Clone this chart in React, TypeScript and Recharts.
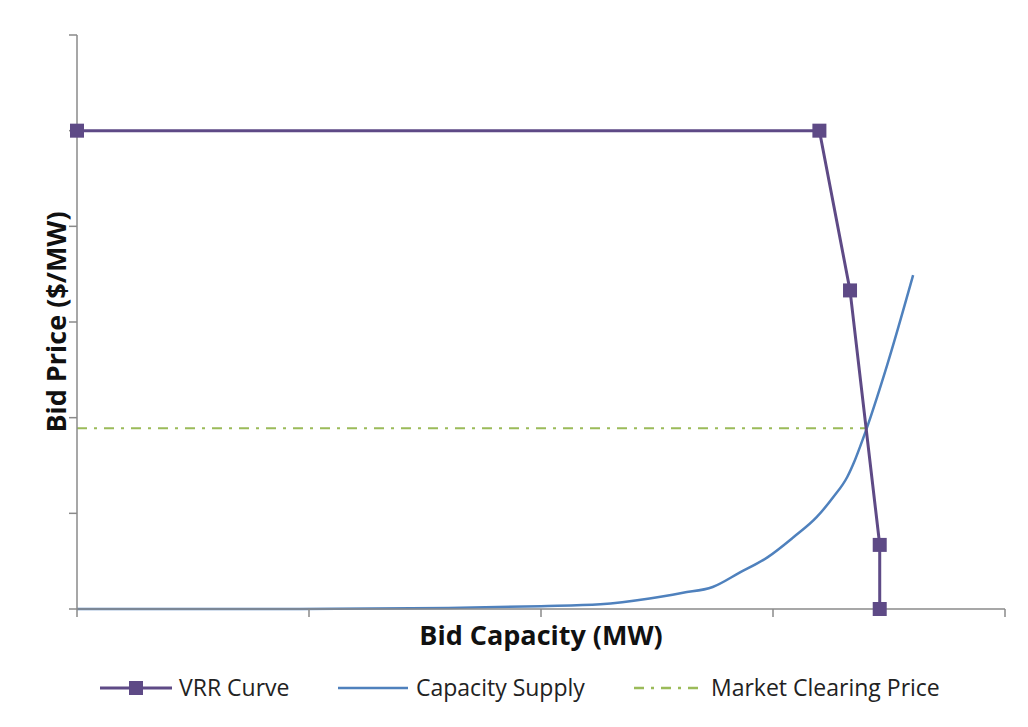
import { LineChart, Line, XAxis, YAxis } from 'recharts';

// VRR demand curve (capacity and price in arbitrary units, no tick labels in the original)
const vrrCapacity = [0, 80, 83.3, 86.5, 86.5];
const vrrPrice = [5, 5, 3.33, 0.67, 0];

const supplyCapacity = [0, 24, 40, 50, 56.4, 61.7, 65.3, 68.5, 71.4, 74.4, 77.2, 79.7, 81.5, 83, 83.8, 84.7, 87.3, 90.1];
const supplyPrice = [0, 0, 0.01, 0.03, 0.05, 0.11, 0.17, 0.23, 0.38, 0.54, 0.75, 0.96, 1.17, 1.38, 1.55, 1.78, 2.55, 3.49];

const clearingCapacity = [0, 85];
const clearingPrice = [1.89, 1.89];

const xTicks = [0, 25, 50, 75, 100];
const yTicks = [0, 1, 2, 3, 4, 5, 6];

const seriesNames = ['VRR Curve', 'Capacity Supply', 'Market Clearing Price'];

const toPoints = (xs: number[], ys: number[]) => xs.map((x, i) => ({ x, y: ys[i] }));

const vrrData = toPoints(vrrCapacity, vrrPrice);
const supplyData = toPoints(supplyCapacity, supplyPrice);
const clearingData = toPoints(clearingCapacity, clearingPrice);

const PURPLE = '#5E4A86';
const BLUE = '#4F81BD';
const GREEN = '#9BBB59';
const AXIS = '#8A8A8A';
const FONT = '"Open Sans", sans-serif';

const SquareDot = (props: any) => {
  const { cx, cy } = props;
  if (cx == null || cy == null) return null;
  return <rect x={cx - 7} y={cy - 7} width={14} height={14} fill={PURPLE} />;
};

// legend plus the outer chart-area border (only top and left edges show in the original)
const ChartDecor = () => (
  <g>
    <path d="M3,727 V6 H1028" fill="none" stroke="#8C8C8C" strokeWidth={2} />
    <g fontFamily={FONT} fontSize={23} fill="#222">
      <path d="M100,688 H172" stroke={PURPLE} strokeWidth={3} />
      <rect x={129} y={681} width={14} height={14} fill={PURPLE} />
      <text x={179} y={696}>{seriesNames[0]}</text>
      <path d="M338,688 H408" stroke={BLUE} strokeWidth={2.5} />
      <text x={416} y={696}>{seriesNames[1]}</text>
      <path d="M634,688 H702" stroke={GREEN} strokeWidth={2.5} strokeDasharray="10 7 3 7" />
      <text x={711} y={696}>{seriesNames[2]}</text>
    </g>
  </g>
);

export default function App() {
  return (
    <div style={{ width: 1028, height: 727, background: '#fff', margin: -8 }}>
      <LineChart
        width={1028}
        height={727}
        margin={{ top: 35, right: 23, bottom: 88, left: 17 }}
      >
        <XAxis
          type="number"
          dataKey="x"
          domain={[0, 100]}
          ticks={xTicks}
          tickFormatter={() => ''}
          tickSize={8}
          height={30}
          stroke={AXIS}
          strokeWidth={1.5}
          allowDuplicatedCategory={false}
        />
        <YAxis
          type="number"
          dataKey="y"
          domain={[0, 6]}
          ticks={yTicks}
          tickFormatter={() => ''}
          tickSize={8}
          width={60}
          stroke={AXIS}
          strokeWidth={1.5}
        />
        <Line
          data={clearingData}
          dataKey="y"
          name={seriesNames[2]}
          type="linear"
          stroke={GREEN}
          strokeWidth={2}
          strokeDasharray="10 7 3 7"
          dot={false}
          isAnimationActive={false}
        />
        <Line
          data={supplyData}
          dataKey="y"
          name={seriesNames[1]}
          type="monotone"
          stroke={BLUE}
          strokeWidth={2.5}
          dot={false}
          isAnimationActive={false}
        />
        <Line
          data={vrrData}
          dataKey="y"
          name={seriesNames[0]}
          type="linear"
          stroke={PURPLE}
          strokeWidth={3}
          dot={<SquareDot />}
          isAnimationActive={false}
        />
        <ChartDecor />
        <text
          x={541}
          y={645}
          textAnchor="middle"
          fontFamily={FONT}
          fontWeight="bold"
          fontSize={27}
          fill="#111"
        >
          Bid Capacity (MW)
        </text>
        <text
          x={0}
          y={0}
          transform="translate(66 322) rotate(-90)"
          textAnchor="middle"
          fontFamily={FONT}
          fontWeight="bold"
          fontSize={27}
          fill="#111"
        >
          Bid Price ($/MW)
        </text>
      </LineChart>
    </div>
  );
}
